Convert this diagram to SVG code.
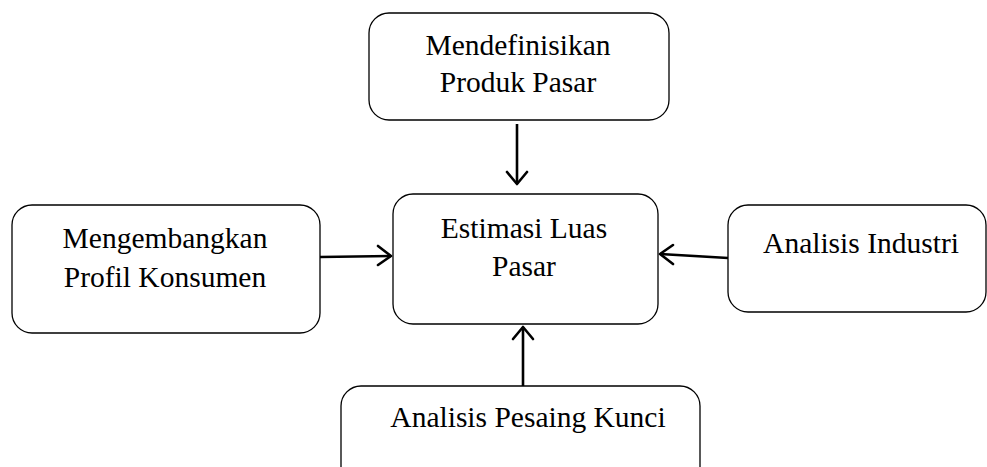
<svg xmlns="http://www.w3.org/2000/svg" width="987" height="467" viewBox="0 0 987 467">
<style>
.box{fill:#fff;stroke:#000;stroke-width:1.3}
.t{font-family:"Liberation Serif","Times New Roman",serif;font-size:29.5px;fill:#000;text-anchor:middle}
.c{stroke:#000;stroke-width:2.6;fill:none}
.h{stroke:#000;stroke-width:2.6;fill:none;stroke-linecap:round;stroke-linejoin:round}
</style>
<rect width="987" height="467" fill="#fff"/>
<g id="produk">
<rect class="box" x="369" y="13" width="300" height="107" rx="20"/>
<text class="t" x="518" y="55">Mendefinisikan</text>
<text class="t" x="518" y="92">Produk Pasar</text>
</g>
<g id="estimasi">
<rect class="box" x="393" y="194" width="265" height="130" rx="20"/>
<text class="t" x="524" y="238">Estimasi Luas</text>
<text class="t" x="524" y="276">Pasar</text>
</g>
<g id="konsumen">
<rect class="box" x="12" y="205" width="308" height="128" rx="20"/>
<text class="t" x="165" y="248">Mengembangkan</text>
<text class="t" x="165" y="287">Profil Konsumen</text>
</g>
<g id="industri">
<rect class="box" x="728" y="205" width="258" height="107" rx="20"/>
<text class="t" x="861" y="253">Analisis Industri</text>
</g>
<g id="pesaing">
<rect class="box" x="341" y="386" width="359" height="110" rx="20"/>
<text class="t" x="528" y="427">Analisis Pesaing Kunci</text>
</g>
<g id="connectors">
<line class="c" x1="517" y1="124" x2="517" y2="184"/>
<path class="h" d="M507,172 L517,184 L527,172"/>
<line class="c" x1="320" y1="257" x2="391" y2="256"/>
<path class="h" d="M378,246 L391,256 L378,265"/>
<line class="c" x1="728" y1="258" x2="660" y2="254"/>
<path class="h" d="M673,245 L660,254 L673,264"/>
<line class="c" x1="523" y1="386" x2="523" y2="327"/>
<path class="h" d="M513,339 L523,327 L533,339"/>
</g>
</svg>
